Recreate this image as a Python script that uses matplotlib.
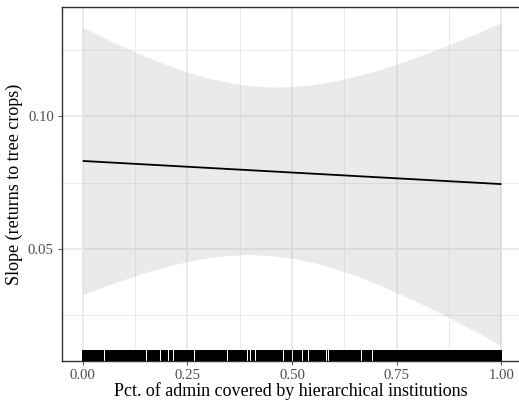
import numpy as np
import matplotlib
matplotlib.use("Agg")
import matplotlib.pyplot as plt

plt.rcParams["font.family"] = ["Liberation Serif", "DejaVu Serif"]

# Fitted slope of returns to tree crops against institutional coverage
fit_x = [0.0, 1.0]
fit_y = [0.0831, 0.0744]

# 95% confidence band around the fit
band_x = [0.00, 0.05, 0.10, 0.15, 0.20, 0.25, 0.30, 0.35, 0.40, 0.45, 0.50,
          0.55, 0.60, 0.65, 0.70, 0.75, 0.80, 0.85, 0.90, 0.95, 1.00]
band_upper = [0.1334, 0.1295, 0.1258, 0.1224, 0.1193, 0.1165, 0.1143, 0.1125,
              0.1114, 0.1109, 0.1110, 0.1118, 0.1131, 0.1148, 0.1170, 0.1195,
              0.1223, 0.1252, 0.1284, 0.1317, 0.1351]
band_lower = [0.0328, 0.0358, 0.0386, 0.0412, 0.0434, 0.0453, 0.0467, 0.0476,
              0.0479, 0.0475, 0.0465, 0.0449, 0.0427, 0.0401, 0.0370, 0.0336,
              0.0300, 0.0262, 0.0221, 0.0180, 0.0137]

# Rug of observed coverage values: spans without observations
rug_range = [0.0, 1.0]
rug_gaps = [0.051, 0.152, 0.175, 0.185, 0.194, 0.204, 0.216, 0.230, 0.242,
            0.266, 0.280, 0.311, 0.345, 0.354, 0.383, 0.393, 0.400, 0.412,
            0.479, 0.502, 0.524, 0.540, 0.550, 0.569, 0.583, 0.588, 0.593,
            0.605, 0.655, 0.665, 0.693, 0.734, 0.815, 0.882, 0.887]

x_ticks = [0.00, 0.25, 0.50, 0.75, 1.00]
x_tick_labels = ["0.00", "0.25", "0.50", "0.75", "1.00"]
y_ticks = [0.05, 0.10]
y_tick_labels = ["0.05", "0.10"]
x_minor = [0.125, 0.375, 0.625, 0.875]
y_minor = [0.025, 0.075, 0.125]

W, H = 519, 401
fig = plt.figure(figsize=(W / 100, H / 100), dpi=100)
left, right, top, bottom = 61.8, 522.3, 7.3, 361.0
ax = fig.add_axes([left / W, 1 - bottom / H, (right - left) / W, (bottom - top) / H])

ax.set_xlim(-0.05, 1.05)
ax.set_ylim(0.00789, 0.14087)

# grid
for v in x_minor:
    ax.axvline(v, color="#EBEBEB", lw=0.7, zorder=0)
for v in y_minor:
    ax.axhline(v, color="#EBEBEB", lw=0.7, zorder=0)
for v in x_ticks:
    ax.axvline(v, color="#EBEBEB", lw=1.4, zorder=0)
for v in y_ticks:
    ax.axhline(v, color="#EBEBEB", lw=1.4, zorder=0)

ax.fill_between(band_x, band_lower, band_upper, color="#999999", alpha=0.2,
                lw=0, zorder=1)
ax.plot(fit_x, fit_y, color="black", lw=1.3, zorder=2, solid_capstyle="butt")

# rug blocks between gaps
edges = [rug_range[0]] + rug_gaps + [rug_range[1]]
pad = 0.0010
for i in range(len(edges) - 1):
    a = edges[i] + (pad if i > 0 else -0.0015)
    b = edges[i + 1] - (pad if i < len(edges) - 2 else -0.0015)
    ax.axvspan(a, b, ymin=0, ymax=0.03, color="black", lw=0, zorder=3)

ax.set_xticks(x_ticks)
ax.set_xticklabels(x_tick_labels)
ax.set_yticks(y_ticks)
ax.set_yticklabels(y_tick_labels)
ax.tick_params(axis="both", length=3.2, width=0.6, color="#333333",
               labelcolor="#4D4D4D", labelsize=10.6, pad=2.5)

for s in ax.spines.values():
    s.set_color("#333333")
    s.set_linewidth(1.0)
ax.spines["right"].set_visible(False)

fig.text(291 / W, 1 - 391 / H, "Pct. of admin covered by hierarchical institutions",
         ha="center", va="center", fontsize=13.0, color="black")
fig.text(14 / W, 1 - 184 / H, "Slope (returns to tree crops)", rotation=90,
         ha="center", va="center", fontsize=13.0, color="black")

fig.savefig("out.png", dpi=100)
